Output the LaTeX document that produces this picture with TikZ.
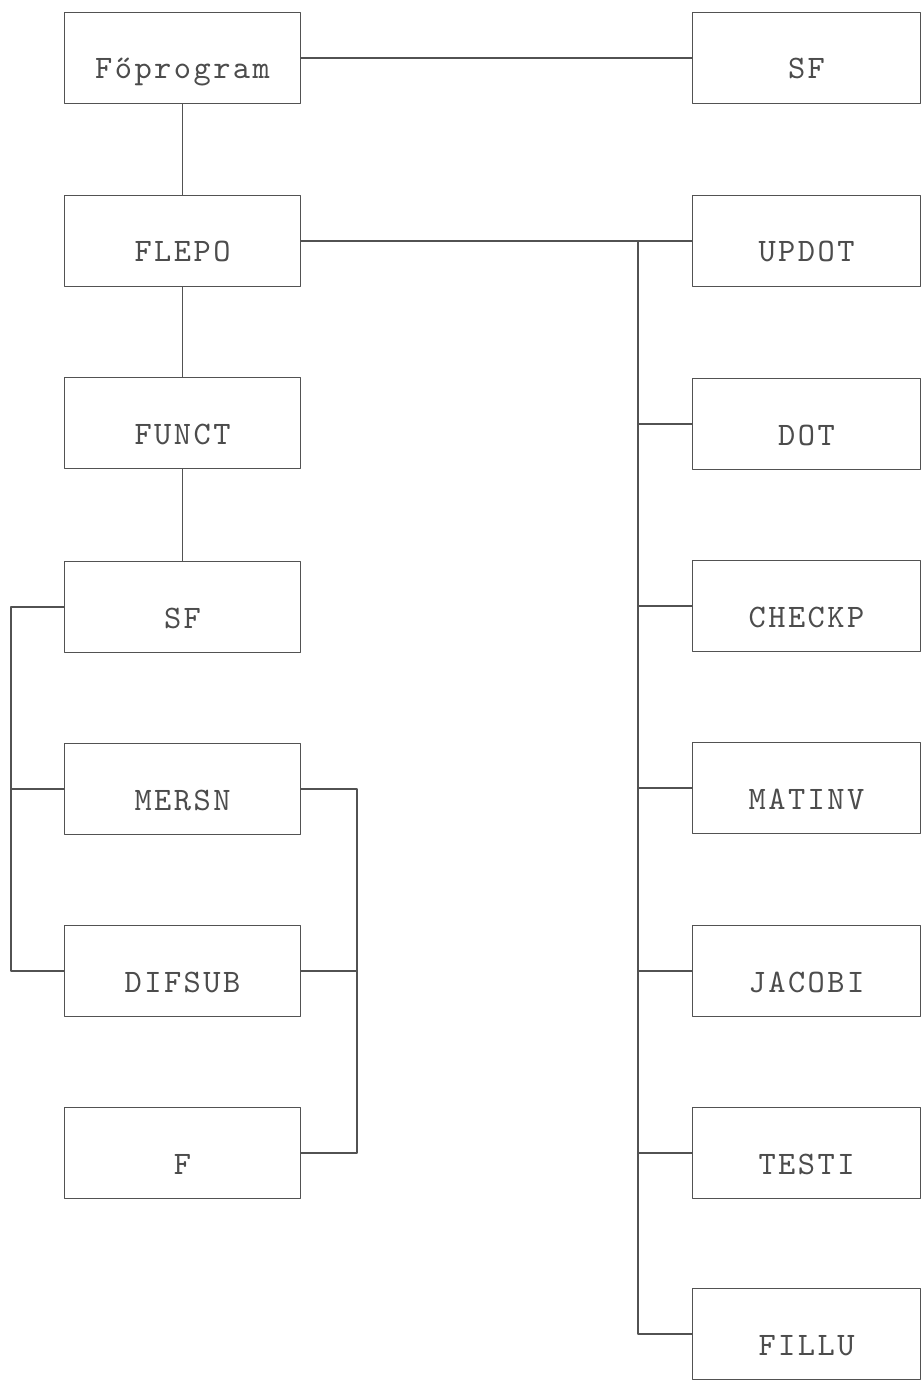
\documentclass[tikz,border=0pt]{standalone}
\usepackage{fontspec}
\usepackage{tikz}
\usetikzlibrary{positioning}
\newfontfamily\typer{lmmono10-regular.otf}[LetterSpace=7.5]

\begin{document}
\begin{tikzpicture}[x=0.5pt,y=-0.5pt,line cap=round,line join=round,
  prog/.style={draw=black!68,line width=0.9pt,inner sep=0pt,minimum height=45.5pt,text=black!70,
    text height=21pt,text depth=0pt,font=\typer\fontsize{16.4}{20}\selectfont},
  progl/.style={prog,minimum width=118pt},
  progr/.style={prog,minimum width=114pt},
  wire/.style={draw=black!68,line width=0.9pt}]
\path[use as bounding box] (0,0) rectangle (922,1380);
\node[progl] (main) at (182.5,58) {Főprogram};
\node[progl] (flepo) at (182.5,241) {FLEPO};
\node[progl] (funct) at (182.5,423) {FUNCT};
\node[progl] (sfl) at (182.5,607) {SF};
\node[progl] (mersn) at (182.5,789) {MERSN};
\node[progl] (difsub) at (182.5,971) {DIFSUB};
\node[progl] (f) at (182.5,1153) {F};
\node[progr] (sfr) at (806.5,58) {SF};
\node[progr] (updot) at (806.5,241) {UPDOT};
\node[progr] (dot) at (806.5,424) {DOT};
\node[progr] (checkp) at (806.5,606) {CHECKP};
\node[progr] (matinv) at (806.5,788) {MATINV};
\node[progr] (jacobi) at (806.5,971) {JACOBI};
\node[progr] (testi) at (806.5,1153) {TESTI};
\node[progr] (fillu) at (806.5,1334) {FILLU};
\coordinate (bus) at (638,0);
\coordinate (lbus) at (11,0);
\coordinate (kbus) at (357,0);
\draw[wire] (main.east) -- (sfr.west);
\draw[wire] (main.south) -- (flepo.north);
\draw[wire] (flepo.south) -- (funct.north);
\draw[wire] (funct.south) -- (sfl.north);
\draw[wire] (flepo.east) -- (updot.west);
\draw[wire] (bus |- updot.west) -- (bus |- fillu.west) -- (fillu.west);
\foreach \n in {dot,checkp,matinv,jacobi,testi}
  \draw[wire] (bus |- \n.west) -- (\n.west);
\draw[wire] (sfl.west) -- (lbus |- sfl.west) -- (lbus |- difsub.west) -- (difsub.west);
\draw[wire] (mersn.west) -- (lbus |- mersn.west);
\draw[wire] (mersn.east) -- (kbus |- mersn.east) -- (kbus |- f.east) -- (f.east);
\draw[wire] (difsub.east) -- (kbus |- difsub.east);
\end{tikzpicture}
\end{document}
